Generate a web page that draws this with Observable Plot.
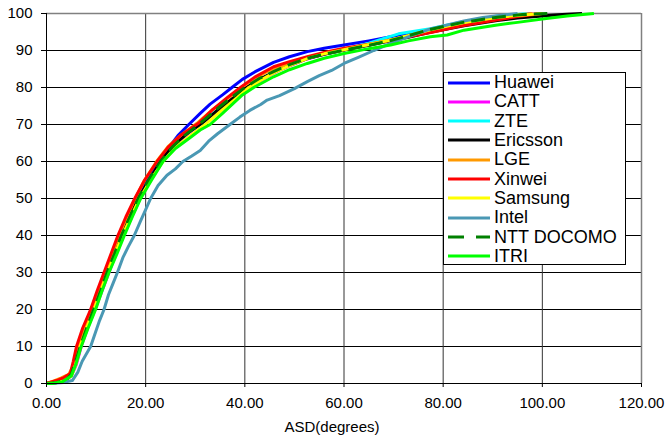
<!DOCTYPE html>
<html>
<head>
<meta charset="utf-8">
<script src="https://cdn.jsdelivr.net/npm/d3@7"></script>
<script src="https://cdn.jsdelivr.net/npm/@observablehq/plot@0.6"></script>
<style>
  html, body { margin: 0; padding: 0; background: #fff; }
  #wrap { position: relative; width: 666px; height: 437px; font-family: "Liberation Sans", Arial, sans-serif; }
  #legend { position: absolute; left: 443px; top: 72px; width: 181px; height: 191px; background: #fff; border: 1px solid #000; box-sizing: content-box; }
  .row { position: absolute; left: 4px; height: 19px; display: flex; align-items: center; font-size: 18px; color: #000; white-space: nowrap; }
  .row svg { margin-right: 4px; }
</style>
</head>
<body>
<div id="wrap"><div id="legend"></div></div>
<script>
// ---- data ----
const seriesNames = ["Huawei", "CATT", "ZTE", "Ericsson", "LGE", "Xinwei", "Samsung", "Intel", "NTT DOCOMO", "ITRI"];
const seriesColors = ["#0000ff", "#ff00ff", "#00ffff", "#000000", "#ff9900", "#ff0000", "#ffff00", "#4a98b4", "#008000", "#00ff00"];
const xTicks = [0, 20, 40, 60, 80, 100, 120];
const yTicks = [0, 10, 20, 30, 40, 50, 60, 70, 80, 90, 100];

const huawei = [[0,0],[2,0.4],[4,1.3],[5,2.6],[5.8,6],[6.3,10],[7.5,14.5],[9,20],[10.5,25],[12,30],[13.5,35],[15,40],[16.6,45],[18.2,50],[20,54.5],[22.7,60],[24.5,63.5],[26.5,67],[28.7,70],[31,73],[33,75.5],[35.5,78],[37.4,80],[39.5,82.2],[42,84.2],[45.8,86.8],[49,88.3],[52.6,89.7],[56,90.6],[60,91.5],[65,92.6],[69.4,93.7],[75,94.9],[80,96],[85,97.2],[90,98.4],[94,99.3],[98,100]];
const catt = [[0,0],[2,0.2],[3.5,0.6],[5,2],[6,5],[7,10],[8.3,15],[9.8,20],[11.2,25],[12.6,30],[14,35],[15.5,40],[17.2,45],[18.9,50],[21,55],[23.4,60],[26,64.5],[28.5,67.5],[32,71],[35,74],[38,77],[41,80],[44,82.5],[47,84.7],[52,87.5],[56,89],[60,90.1],[65,91.6],[70,93],[75,94.4],[80,96],[85,97.5],[90,98.6],[95,99.4],[99,100]];
const zte = [[0,0],[2,0.3],[4,1],[5,2.5],[6,6],[6.8,10],[8,15],[9.4,20],[10.9,25],[12.3,30],[13.8,35],[15.3,40],[17,45],[18.7,50],[20.8,55],[23.2,60],[25.5,64],[28,67.3],[31.5,70.5],[34.5,74],[37.5,77],[40.5,80],[43.5,82.5],[47,85],[52,87.6],[56,89.2],[60,90.3],[65,92],[71,94.5],[77.4,95.9],[84,97.8],[91,99.3],[97,100]];
const ericsson = [[0,0],[2,0.5],[4,1.5],[5,3],[6,7.5],[6.5,10],[8,15.5],[9.3,20],[11,25.5],[12.2,30],[13.7,35],[15.2,40],[16.8,45],[18.5,50],[20.5,54.5],[23,60],[25,63.5],[27,66],[29,68.2],[31.5,70.5],[34,73.3],[37,76.5],[40.3,80],[43,82.3],[45.8,84.1],[49,86],[52.6,87.8],[56,89],[60,90.1],[65,91.4],[69.4,92.6],[73,93.6],[77.4,94.9],[84.2,96.7],[90.9,98.1],[95,98.8],[100,99.3],[104,99.7],[108,100]];
const lge = [[0,0],[1.5,0.7],[3,1.5],[4.5,2.5],[5.3,4.5],[6.3,10],[7.6,15],[9.1,20],[10.5,25],[11.8,30],[13.2,35],[14.6,40],[16.2,45],[17.9,50],[19.8,55],[22.2,60],[24.5,64],[27,67],[30.5,70.5],[33.5,74],[36.5,77],[39.3,80],[42,82.5],[45,84.6],[49,86.6],[53,88.2],[56,89.3],[60,90.3],[65,91.6],[69,92.7],[73,94],[77.4,95.6],[84,97.6],[91,99],[98,100]];
const xinwei = [[0,0],[2,0.8],[3.5,1.6],[4.8,2.7],[5.4,6],[6.05,10],[7.3,15],[8.9,20],[10.2,25],[11.6,30],[13,35],[14.4,40],[16,45],[17.8,50],[19.8,55],[22.3,60],[24.5,63.8],[27,67],[30.8,70.5],[33.5,74],[36.5,77.3],[39.1,80],[42,82.8],[45.8,85.6],[49,87],[52.6,88.3],[56,89.5],[60,90.6],[65,91.7],[69.4,92.8],[74,94],[78,95],[83,96.5],[88,97.6],[95,99.2],[100,100]];
const samsung = [[0,0],[2,0.2],[3.5,0.7],[5,2],[6,5.5],[6.8,10],[8.1,15],[9.6,20],[11,25],[12.3,30],[13.8,35],[15.3,40],[17,45],[18.8,50],[21,55],[23.5,60],[26,63.8],[29,67],[32.3,70.3],[35.5,74],[38.5,77.3],[40.8,80],[43.5,82.2],[46,84.1],[49.5,86.2],[53,88],[56,89.1],[60,90.2],[65,91.6],[69,92.7],[73,94],[77.4,95.6],[84,97.5],[91,99],[100,100]];
const intel = [[0,0],[2,0.1],[3.5,0.3],[5.2,0.8],[6.3,3],[7.2,6],[8.9,10],[9.8,13.5],[10.7,17],[11.6,20],[12.5,24],[13.4,27],[14.3,30],[15.4,34],[16.5,37],[17.7,40],[19,44],[20,47],[21,50],[22.5,53.5],[24.3,56.3],[26,58],[27.5,60],[29.3,61.5],[31,63],[32.7,65.5],[34.5,67.5],[37,70],[39,72],[41,73.8],[43.2,75.4],[44.5,76.6],[47,77.8],[50,79.7],[52.6,81.6],[55,83.2],[57.5,84.6],[60,86.5],[63,88.2],[66,90],[69.4,91.9],[72,93.2],[75,94.7],[77.4,95.8],[80,96.6],[84.2,98],[88,98.9],[90.9,99.4],[95,100]];
const nttDocomo = [[0,0],[2,0.3],[4,1],[5,2.5],[6,6.5],[6.8,10],[8.1,15],[9.5,20],[10.9,25],[12.2,30],[13.7,35],[15.1,40],[16.8,45],[18.5,50],[20.6,55],[23,60],[25.3,63.8],[27.8,67],[31,70.3],[34,73.8],[37,77],[40,80],[43,82.5],[45.8,84.3],[49,86.2],[52.6,87.9],[56,89],[60,90.1],[65,91.4],[69.4,92.7],[73,94],[77.4,95.7],[84,97.6],[91,99],[96,99.7],[101,100]];
const itri = [[0,0],[1.5,0.1],[3.2,0.5],[5,2],[6,5.5],[7,10],[8.4,15],[9.9,20],[11.2,25],[12.6,30],[14.2,35],[15.7,40],[17.3,45],[19,50],[21.2,55],[23.5,60],[26,63.5],[29,66.5],[31,68.5],[33,70],[35.5,73],[37.5,75.5],[39.5,78],[41.8,80],[45.8,82.9],[49,84.8],[52.6,86.5],[56,87.9],[60,89.2],[65,90.5],[69.4,91.5],[73,92.6],[77.4,93.7],[80.8,94.2],[84.2,95.5],[88,96.3],[90.9,96.9],[95,97.6],[100,98.5],[105,99.3],[110.4,100]];

const seriesData = [huawei, catt, zte, ericsson, lge, xinwei, samsung, intel, nttDocomo, itri];

// ---- table built from the arrays ----
const table = seriesData.flatMap((arr, i) => arr.map(([x, y]) => ({series: seriesNames[i], x, y})));
const dashes = {"NTT DOCOMO": "14,7"};

const lineMarks = seriesNames.map((name, i) =>
  Plot.line(table.filter(d => d.series === name), {
    x: "x", y: "y", stroke: seriesColors[i], strokeWidth: 3,
    strokeDasharray: dashes[name], strokeLinejoin: "round", strokeLinecap: "butt"
  })
);

const chart = Plot.plot({
  width: 666,
  height: 437,
  marginTop: 13,
  marginRight: 25,
  marginBottom: 54,
  marginLeft: 46,
  style: {fontFamily: "'Liberation Sans', Arial, sans-serif", fontSize: "15px", background: "transparent", color: "#000"},
  x: {domain: [0, 120]},
  y: {domain: [0, 100]},
  marks: [
    Plot.ruleY(yTicks.filter(v => v > 0 && v < 100), {stroke: "#000", strokeWidth: 1}),
    Plot.ruleX(xTicks.filter(v => v > 0 && v < 120), {stroke: "#333", strokeWidth: 1}),
    Plot.ruleY([100], {stroke: "#808080", strokeWidth: 1.5}),
    Plot.ruleX([120], {stroke: "#808080", strokeWidth: 1.5}),
    ...lineMarks,
    Plot.ruleY([0], {stroke: "#000", strokeWidth: 1}),
    Plot.ruleX([0], {stroke: "#000", strokeWidth: 1}),
    Plot.axisY({ticks: yTicks, tickSize: 5, tickPadding: 9, label: null, fontSize: 15, stroke: "#000"}),
    Plot.axisX({ticks: xTicks, tickSize: 4, tickPadding: 10, label: null, fontSize: 15, tickFormat: d => d.toFixed(2), stroke: "#000"}),
    Plot.text(["ASD(degrees)"], {frameAnchor: "bottom", dy: 48, dx: -12, fontSize: 15, fill: "#000"})
  ]
});

const wrap = document.getElementById("wrap");
wrap.insertBefore(chart, wrap.firstChild);

// ---- legend ----
const legend = document.getElementById("legend");
seriesNames.forEach((name, i) => {
  const row = document.createElement("div");
  row.className = "row";
  row.style.top = (i * 19.33) + "px";
  const dash = dashes[name] ? `stroke-dasharray="16,12"` : "";
  row.innerHTML = `<svg width="42" height="6"><line x1="0" x2="42" y1="3" y2="3" stroke="${seriesColors[i]}" stroke-width="3" ${dash}/></svg><span>${name}</span>`;
  legend.appendChild(row);
});
</script>
</body>
</html>
